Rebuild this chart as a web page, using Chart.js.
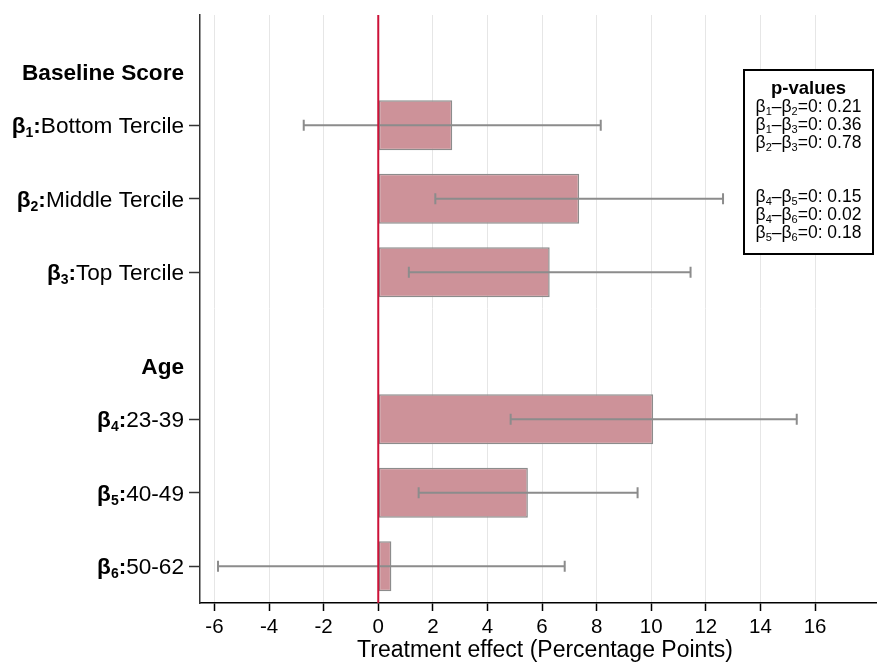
<!DOCTYPE html>
<html>
<head>
<meta charset="utf-8">
<style>
  html, body { margin: 0; padding: 0; background: #ffffff; }
  #wrap { width: 877px; height: 662px; position: relative; }
</style>
<script src="https://cdn.jsdelivr.net/npm/chart.js@4.4.1/dist/chart.umd.min.js"></script>
</head>
<body>
<div id="wrap"><canvas id="c" width="877" height="662"></canvas></div>
<script>
// Rows of the coefficient plot (group headers have no estimate)
const categories = ['Baseline Score', 'Bottom Tercile', 'Middle Tercile', 'Top Tercile',
                    'Age', '23-39', '40-49', '50-62'];
const coefIndex  = [null, 1, 2, 3, null, 4, 5, 6];
const effects    = [null, 2.71, 7.36, 6.28, null, 10.07, 5.48, 0.48];
const ciLower    = [null, -2.73, 2.09, 1.12, null, 4.85, 1.48, -5.87];
const ciUpper    = [null, 8.15, 12.63, 11.44, null, 15.33, 9.50, 6.83];
const xTickValues = [-6, -4, -2, 0, 2, 4, 6, 8, 10, 12, 14, 16];
const xTitle = 'Treatment effect (Percentage Points)';

// Equality tests shown in the p-value box
const testFirst   = [1, 1, 2, 4, 4, 5];
const testSecond  = [2, 3, 3, 5, 6, 6];
const testPValues = ['0.21', '0.36', '0.78', '0.15', '0.02', '0.18'];

const FONT = "'Liberation Sans', Arial, Helvetica, sans-serif";

const overlay = {
  id: 'overlay',
  afterDatasetsDraw(chart) {
    const ctx = chart.ctx, xs = chart.scales.x, ys = chart.scales.y, area = chart.chartArea;
    ctx.save();
    // confidence intervals
    ctx.strokeStyle = '#8c8c8c';
    ctx.lineWidth = 2;
    effects.forEach((v, i) => {
      if (v === null) return;
      const y = ys.getPixelForValue(i);
      const x1 = xs.getPixelForValue(ciLower[i]);
      const x2 = xs.getPixelForValue(ciUpper[i]);
      ctx.beginPath();
      ctx.moveTo(x1, y); ctx.lineTo(x2, y);
      ctx.moveTo(x1, y - 5.5); ctx.lineTo(x1, y + 5.5);
      ctx.moveTo(x2, y - 5.5); ctx.lineTo(x2, y + 5.5);
      ctx.stroke();
    });
    // zero reference line
    const x0 = xs.getPixelForValue(0);
    ctx.strokeStyle = '#cc1238';
    ctx.lineWidth = 2;
    ctx.beginPath();
    ctx.moveTo(x0, area.top); ctx.lineTo(x0, area.bottom);
    ctx.stroke();
    ctx.restore();
  },
  afterDraw(chart) {
    const ctx = chart.ctx, ys = chart.scales.y;
    const slot = ys.getPixelForValue(1) - ys.getPixelForValue(0);
    const right = 184;
    ctx.save();
    ctx.fillStyle = '#000';
    ctx.textBaseline = 'alphabetic';
    ctx.textAlign = 'left';
    categories.forEach((label, i) => {
      const yc = ys.getPixelForValue(i);
      if (coefIndex[i] === null) {
        ctx.font = `bold 22.6px ${FONT}`;
        const w = ctx.measureText(label).width;
        ctx.fillText(label, right - w, yc + 0.28 * slot + 8);
        return;
      }
      const base = yc + 8;
      const bold = `bold 22.6px ${FONT}`, sub = `bold 14px ${FONT}`, reg = `22.6px ${FONT}`;
      const parts = [
        ['\u03B2', bold, 0],
        [String(coefIndex[i]), sub, 4],
        [':', bold, 0],
        [label, reg, 0]
      ];
      let total = 0;
      parts.forEach(p => { ctx.font = p[1]; p.push(ctx.measureText(p[0]).width); total += p[3]; });
      let x = right - total;
      parts.forEach(p => { ctx.font = p[1]; ctx.fillText(p[0], x, base + p[2]); x += p[3]; });
    });

    // x-axis title
    ctx.font = `23px ${FONT}`;
    ctx.textAlign = 'center';
    ctx.fillText(xTitle, 545, 657);
    ctx.textAlign = 'left';

    // p-value box
    const bx = 744, by = 70, bw = 129, bh = 184, cx = bx + bw / 2;
    ctx.fillStyle = '#ffffff';
    ctx.fillRect(bx, by, bw, bh);
    ctx.strokeStyle = '#000';
    ctx.lineWidth = 2;
    ctx.strokeRect(bx, by, bw, bh);
    ctx.fillStyle = '#000';
    ctx.font = `bold 18.5px ${FONT}`;
    ctx.textAlign = 'center';
    ctx.fillText('p-values', cx, by + 24);
    ctx.textAlign = 'left';
    const rowY = [106, 124, 142, 196, 214, 232];
    testPValues.forEach((p, k) => {
      const base = rowY[k] + 6;
      const reg = `17.5px ${FONT}`, sub = `11px ${FONT}`;
      const parts = [
        ['\u03B2', reg, 0], [String(testFirst[k]), sub, 3],
        ['\u2013\u03B2', reg, 0], [String(testSecond[k]), sub, 3],
        ['=0: ' + p, reg, 0]
      ];
      let total = 0;
      parts.forEach(q => { ctx.font = q[1]; q.push(ctx.measureText(q[0]).width); total += q[3]; });
      let x = cx - total / 2;
      parts.forEach(q => { ctx.font = q[1]; ctx.fillText(q[0], x, base + q[2]); x += q[3]; });
    });
    ctx.restore();
  }
};

new Chart(document.getElementById('c'), {
  type: 'bar',
  data: {
    labels: categories,
    datasets: [{
      data: effects,
      backgroundColor: '#cd9299',
      borderColor: '#8c8c8c',
      borderWidth: 1.5,
      borderSkipped: false,
      categoryPercentage: 1,
      barPercentage: 0.68
    }]
  },
  options: {
    indexAxis: 'y',
    responsive: false,
    animation: false,
    layout: { padding: { top: 15, right: 0, left: 0, bottom: 0 } },
    plugins: { legend: { display: false }, tooltip: { enabled: false } },
    scales: {
      x: {
        type: 'linear',
        min: -6.53,
        max: 18.27,
        afterBuildTicks: s => { s.ticks = xTickValues.map(v => ({ value: v })); },
        grid: { color: '#e6e6e6', lineWidth: 1, tickColor: '#000', tickWidth: 1.5, tickLength: 8 },
        border: { color: '#000', width: 1.5 },
        ticks: { color: '#000', font: { family: FONT, size: 20.5 }, padding: 4, maxRotation: 0, autoSkip: false },
        title: { display: false },
        afterFit: s => { s.height = 59; }
      },
      y: {
        type: 'category',
        offset: true,
        grid: {
          offset: false,
          drawOnChartArea: false,
          tickLength: 11,
          tickWidth: 1.5,
          tickColor: c => (coefIndex[c.index] === null ? 'rgba(0,0,0,0)' : '#333')
        },
        border: { color: '#333', width: 1.5 },
        ticks: { display: false },
        afterFit: s => { s.width = 200; }
      }
    }
  },
  plugins: [overlay]
});
</script>
</body>
</html>
